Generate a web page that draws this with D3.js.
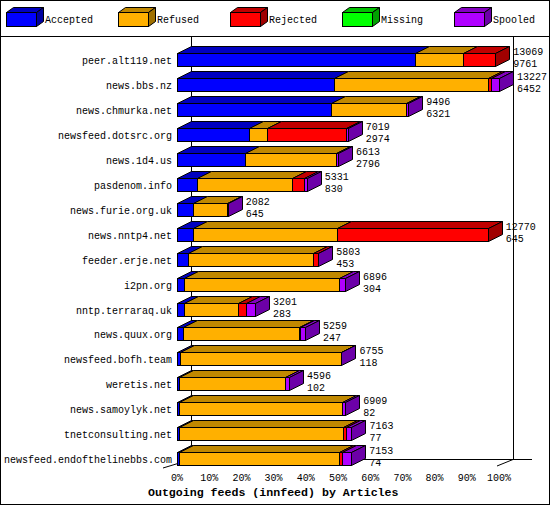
<!DOCTYPE html>
<html><head><meta charset="utf-8">
<script src="https://cdn.jsdelivr.net/npm/d3@7"></script>
<style>body{margin:0;background:#fff}svg{display:block}text{font-family:"Liberation Mono","DejaVu Sans Mono",monospace;font-size:10px}</style>
</head><body><svg id="c" width="550" height="505"></svg>
<script>
const hosts=["peer.alt119.net","news.bbs.nz","news.chmurka.net","newsfeed.dotsrc.org","news.1d4.us","pasdenom.info","news.furie.org.uk","news.nntp4.net","feeder.erje.net","i2pn.org","nntp.terraraq.uk","news.quux.org","newsfeed.bofh.team","weretis.net","news.samoylyk.net","tnetconsulting.net","newsfeed.endofthelinebbs.com"];
const offered=[13069,13227,9496,7019,6613,5331,2082,12770,5803,6896,3201,5259,6755,4596,6909,7163,7153];
const accepted=[9761,6452,6321,2974,2796,830,645,645,453,304,283,247,118,102,82,77,74];
const refused=[1970,6338,3100,713,3724,3880,1420,5941,5147,6351,2207,4763,6600,4350,6700,6733,6596];
const rejected=[1338,110,0,3255,0,520,0,6184,180,0,330,60,0,0,0,120,95];
const missing=[0,0,0,0,0,0,0,0,0,0,0,0,0,0,0,0,0];
const spooled=[0,327,75,77,93,101,17,0,23,241,381,189,37,144,127,233,388];
const seriesNames=["Accepted","Refused","Rejected","Missing","Spooled"];
const ticks=[0,10,20,30,40,50,60,70,80,90,100];
const front=["#0000ff","#ffb000","#ff0000","#00ff00","#b000ff"];
const topc=["#0000c0","#c08800","#c00000","#00c000","#8400c0"];
const sidec=["#0000a0","#a07000","#a00000","#00a000","#6c00a8"];
const DX=14,DY=7,H=13;
const svg=d3.select("#c");
svg.append("rect").attr("x",0.5).attr("y",0.5).attr("width",549).attr("height",504).attr("fill","none").attr("stroke","#000");
svg.append("line").attr("x1",0).attr("x2",550).attr("y1",36.5).attr("y2",36.5).attr("stroke","#000");
const lx=d3.scaleBand().domain(seriesNames).range([6,566]);
seriesNames.forEach((n,i)=>{
  const x=lx(n),y=12,w=30,h=14,dx=7,dy=5;
  const g=svg.append("g").attr("stroke","#000").attr("stroke-width",1);
  g.append("rect").attr("x",x+.5).attr("y",y+.5).attr("width",w).attr("height",h).attr("fill",front[i]);
  g.append("path").attr("d",`M${x+.5},${y+.5}l${dx},${-dy}h${w}l${-dx},${dy}z`).attr("fill",topc[i]);
  g.append("path").attr("d",`M${x+w+.5},${y+.5}l${dx},${-dy}v${h}l${-dx},${dy}z`).attr("fill",sidec[i]);
  svg.append("text").attr("x",x+w+dx+2).attr("y",y+11).text(n);
});
const maxT=d3.max(offered);
const x=d3.scaleLinear().domain([0,100]).range([177,499]);
const y=d3.scaleBand().domain(hosts).range([53,53+24.95*17]).paddingInner(0);
const ax=svg.append("g").attr("stroke","#000").attr("fill","none");
ax.append("line").attr("x1",x(0)+DX+.5).attr("x2",x(0)+DX+.5).attr("y1",37).attr("y2",460);
ax.append("line").attr("x1",x(100)+DX+.5).attr("x2",x(100)+DX+.5).attr("y1",37).attr("y2",460);
ax.append("line").attr("x1",x(0)+DX).attr("x2",532).attr("y1",459.5).attr("y2",459.5);
ax.append("line").attr("x1",163).attr("y1",468).attr("x2",x(0)+DX).attr("y2",459.5);
ax.append("line").attr("x1",x(100)-2).attr("y1",466).attr("x2",x(100)+DX).attr("y2",459.5);
ticks.forEach(t=>svg.append("text").attr("x",x(t)).attr("y",481).attr("text-anchor","middle").text(t+"%"));
svg.append("text").attr("x",148).attr("y",496).attr("font-weight","bold").style("font-size","11.6px").text("Outgoing feeds (innfeed) by Articles");
const ser=[accepted,refused,rejected,missing,spooled];
hosts.forEach((h,r)=>{
  const yt=Math.round(y(h))+.5;
  svg.append("text").attr("x",172).attr("y",yt+10).attr("text-anchor","end").text(h);
  let cum=0,segs=[];
  ser.forEach((s,i)=>{const v=s[r];if(v>0){segs.push([i,cum,cum+v]);cum+=v;}});
  const g=svg.append("g").attr("stroke","#000");
  segs.forEach(([i,a,b],k)=>{
    const x0=Math.round(x(a/maxT*100))+.5,x1=Math.round(x(b/maxT*100))+.5;
    g.append("rect").attr("x",x0).attr("y",yt).attr("width",x1-x0).attr("height",H).attr("fill",front[i]);
    g.append("path").attr("d",`M${x0},${yt}L${x0+DX},${yt-DY}H${x1+DX}L${x1},${yt}z`).attr("fill",topc[i]);
    if(k===segs.length-1) g.append("path").attr("d",`M${x1},${yt}L${x1+DX},${yt-DY}V${yt-DY+H}L${x1},${yt+H}z`).attr("fill",sidec[i]);
  });
  const xe=x(offered[r]/maxT*100)+DX+4;
  svg.append("text").attr("x",xe).attr("y",yt+1).text(offered[r]);
  svg.append("text").attr("x",xe).attr("y",yt+13).text(accepted[r]);
});
</script></body></html>
